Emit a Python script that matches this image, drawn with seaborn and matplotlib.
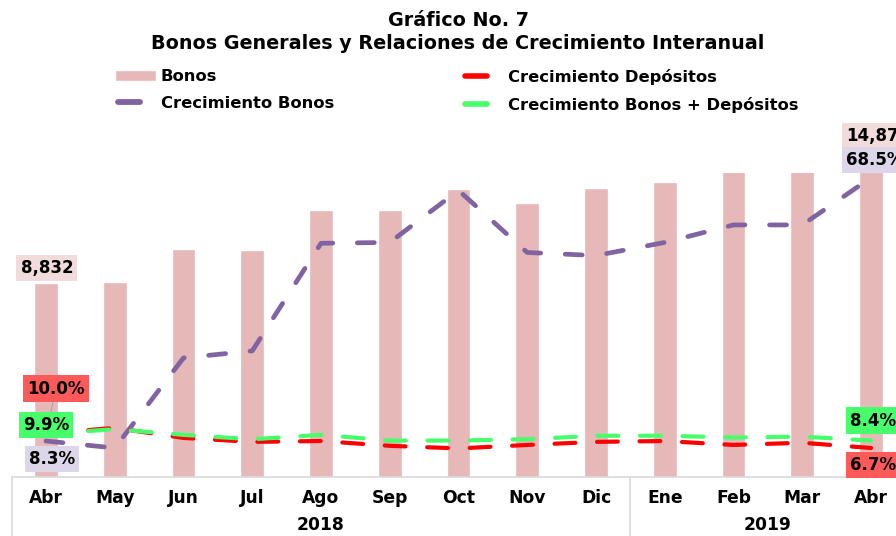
import matplotlib
matplotlib.use("Agg")
import matplotlib.pyplot as plt
import matplotlib.transforms as mtransforms
from matplotlib.lines import Line2D
from matplotlib.legend_handler import HandlerBase
import seaborn as sns
import pandas as pd

# ---------------- data ----------------
meses = ['Abr', 'May', 'Jun', 'Jul', 'Ago', 'Sep', 'Oct', 'Nov', 'Dic', 'Ene', 'Feb', 'Mar', 'Abr']
anios = ['2018', '2019']
meses_por_anio = [9, 4]
bonos = [8832, 8877, 10363, 10317, 12149, 12149, 13103, 12481, 13162, 13421, 14150, 14300, 14879]
crec_bonos = [8.3, 6.7, 27.3, 28.9, 53.5, 53.7, 65.6, 51.4, 50.7, 53.7, 57.7, 57.7, 68.5]
crec_depositos = [10.0, 11.3, 9.0, 8.1, 8.3, 7.2, 6.6, 7.4, 8.1, 8.3, 7.4, 7.9, 6.7]
crec_total = [9.9, 11.0, 9.7, 8.7, 9.7, 8.4, 8.4, 8.7, 9.5, 9.5, 9.1, 9.3, 8.4]

titulo = "Gráfico No. 7\nBonos Generales y Relaciones de Crecimiento Interanual"
leyenda = ['Bonos', 'Crecimiento Bonos', 'Crecimiento Depósitos', 'Crecimiento Bonos + Depósitos']

# ---------------- styling ----------------
sns.set_style('white')
plt.rcParams['font.family'] = ['DejaVu Sans']
plt.rcParams['text.color'] = 'black'

C_BAR = '#E6B8B7'
C_PUR = '#8064A2'
C_RED = '#FF0000'
C_GRN = '#46FF6A'
C_GRID = '#D9D9D9'

W, H = 896, 536
fig = plt.figure(figsize=(W / 100, H / 100), dpi=100)

left_px, right_px = 11.6, 905.4
base_px, top_px = 477.3, 172.7
ax = fig.add_axes([left_px / W, (H - base_px) / H, (right_px - left_px) / W, (base_px - top_px) / H])

keys = [f'{m} {i}' for i, m in enumerate(meses)]
df = pd.DataFrame({'key': keys, 'bonos': bonos})
sns.barplot(data=df, x='key', y='bonos', color=C_BAR, saturation=1, width=0.345, ax=ax)
ax.set_xlim(-0.5, len(meses) - 0.5)
ax.set_ylim(0, 13845)
ax.set_xlabel('')
ax.set_ylabel('')
ax.set_yticks([])
ax.set_xticks(range(len(meses)))
ax.set_xticklabels(meses, fontweight='bold', fontsize=12.3)
ax.tick_params(axis='x', length=0, pad=8.5, colors='black')
for s in ['top', 'right', 'left']:
    ax.spines[s].set_visible(False)
ax.spines['bottom'].set_color(C_GRID)
ax.spines['bottom'].set_linewidth(1.2)

ax2 = ax.twinx()
ax2.set_ylim(0, 69.64)
ax2.set_yticks([])
for s in ['top', 'right', 'left', 'bottom']:
    ax2.spines[s].set_visible(False)

x = list(range(len(meses)))
series = [(crec_bonos, C_PUR, 3.4, (3.6, 5.2)),
          (crec_depositos, C_RED, 3.0, (5.0, 5.2)),
          (crec_total, C_GRN, 3.0, (5.0, 5.2))]
for vals, col, lw, dash in series:
    sns.lineplot(x=x, y=vals, ax=ax2, color=col, linewidth=lw, legend=False)
    ln = ax2.lines[-1]
    ln.set_dashes(dash)
    ln.set_dash_capstyle('round')
    ln.set_solid_capstyle('round')
ax2.set_xlim(-0.5, len(meses) - 0.5)

# lower category axis: separators and year labels
trans = mtransforms.blended_transform_factory(ax.transData, ax.transAxes)
edges = [-0.5]
acc = -0.5
for n in meses_por_anio:
    acc += n
    edges.append(acc)
for e in edges[:-1]:
    ax.plot([e, e], [0, -0.21], transform=trans, color=C_GRID, lw=1.2, clip_on=False)
start = 0
for anio, n in zip(anios, meses_por_anio):
    ax.text(start + (n - 1) / 2, -0.157, anio, transform=trans, ha='center', va='center',
            fontweight='bold', fontsize=12.3)
    start += n

# ---------------- data labels ----------------
LBL = dict(fontsize=12, fontweight='bold', ha='center', va='center',
           textcoords='offset pixels', annotation_clip=False)


def box(fc):
    return dict(boxstyle='square,pad=0.25', fc=fc, ec='none')


ax.annotate(f'{bonos[0]:,}', xy=(0, bonos[0]), xytext=(1, 15), bbox=box('#F2DCDB'), **LBL)
ax.annotate(f'{bonos[-1]:,}', xy=(12, bonos[-1]), xytext=(7, 14), bbox=box('#F2DCDB'), **LBL)
ax2.annotate(f'{crec_depositos[0]:.1f}%', xy=(0, crec_depositos[0]), xytext=(10, 45),
             bbox=box('#FF5A5A'), arrowprops=dict(arrowstyle='-', color='#A6A6A6', lw=0.8,
                                                   shrinkA=0, shrinkB=4), **LBL)
ax2.annotate(f'{crec_total[0]:.1f}%', xy=(0, crec_total[0]), xytext=(0, 9),
             bbox=box(C_GRN), **LBL)
ax2.annotate(f'{crec_bonos[0]:.1f}%', xy=(0, crec_bonos[0]), xytext=(6, -18),
             bbox=box('#DCD6E8'), **LBL)
ax2.annotate(f'{crec_bonos[-1]:.1f}%', xy=(12, crec_bonos[-1]), xytext=(4, 18),
             bbox=box('#DCD6E8'), **LBL)
ax2.annotate(f'{crec_total[-1]:.1f}%', xy=(12, crec_total[-1]), xytext=(2, 20),
             bbox=box(C_GRN), **LBL)
ax2.annotate(f'{crec_depositos[-1]:.1f}%', xy=(12, crec_depositos[-1]), xytext=(2, -17),
             bbox=box('#FF5A5A'), **LBL)

# ---------------- title ----------------
fig.text(458 / W, 1 - 32 / H, titulo, ha='center', va='center', fontsize=13.8,
         fontweight='bold', linespacing=1.3)


# ---------------- legend ----------------
class ShortLine(HandlerBase):
    def create_artists(self, legend, orig, xdescent, ydescent, width, height, fontsize, trans):
        y = height / 2 - ydescent
        ln = Line2D([-xdescent + 2, -xdescent + 0.6 * width], [y, y], color=orig.get_color(),
                    lw=orig.get_linewidth(), solid_capstyle='round', linestyle='-',
                    transform=trans)
        return [ln]


bar_handle = ax.patches[0]
proxies = [Line2D([], [], color=C_PUR, lw=4.2),
           Line2D([], [], color=C_RED, lw=4.0),
           Line2D([], [], color=C_GRN, lw=4.0)]
LEG = dict(frameon=False, loc='upper left', borderpad=0, borderaxespad=0, handlelength=2.5,
           handletextpad=0.3, labelspacing=0.72, prop=dict(weight='bold', size=11.8),
           handler_map={Line2D: ShortLine()})
fig.legend([bar_handle, proxies[0]], [leyenda[0], leyenda[1]],
           bbox_to_anchor=(115 / W, 1 - 69 / H), **LEG)
fig.legend([proxies[1], proxies[2]], [leyenda[2], leyenda[3]],
           bbox_to_anchor=(462 / W, 1 - 69 / H), **LEG)

fig.savefig('out.png', dpi=100)
